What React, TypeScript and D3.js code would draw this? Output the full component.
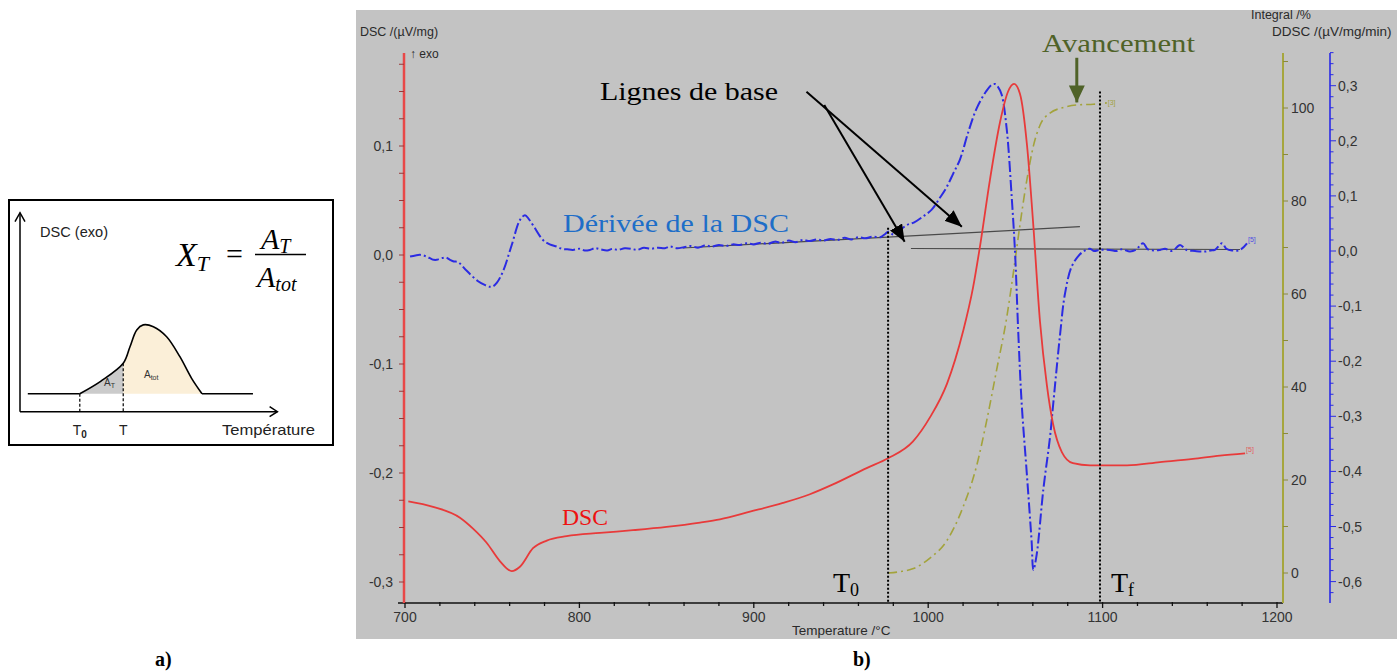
import React from "react";
import * as d3 from "d3";

// ---------------- data ----------------
const tempTicks = [700, 800, 900, 1000, 1100, 1200];
const dscTicks = [0.1, 0.0, -0.1, -0.2, -0.3];
const integralTicks = [0, 20, 40, 60, 80, 100];
const ddscTicks = [0.3, 0.2, 0.1, 0.0, -0.1, -0.2, -0.3, -0.4, -0.5, -0.6];

// DSC (µV/mg) vs temperature (°C)
const dscT = [701.9, 716.1, 731.5, 739, 746.8, 754.5, 761.2, 765.9, 773.4, 781.3, 792.7, 811.8, 830.7, 850, 869.2, 880.6, 897.8, 916.7, 932.2, 945.4, 964.7, 977, 991.3, 1001, 1010.8, 1020, 1025.7, 1029.7, 1035.4, 1041.2, 1045.8, 1049.2, 1052.6, 1056.7, 1060.1, 1064.1, 1068.1, 1071.6, 1076.7, 1083, 1092.8, 1114, 1132.9, 1151.8, 1167.3, 1181.7];
const dscV = [-0.226, -0.231, -0.241, -0.251, -0.264, -0.281, -0.29, -0.286, -0.269, -0.262, -0.258, -0.255, -0.2525, -0.2495, -0.2455, -0.2425, -0.2355, -0.2275, -0.2195, -0.2105, -0.1955, -0.1865, -0.171, -0.149, -0.118, -0.07, -0.03, 0.008, 0.069, 0.122, 0.15, 0.157, 0.148, 0.1, 0.031, -0.061, -0.12, -0.155, -0.181, -0.191, -0.193, -0.193, -0.19, -0.187, -0.184, -0.182];

// DDSC (µV/mg/min)
const ddscT = [702.9, 706, 708.6, 711.5, 714.3, 716.5, 718.2, 721, 723.5, 725.8, 728, 730.4, 735.4, 741.9, 746, 748.7, 750.5, 752.6, 756.2, 761.2, 765.9, 768.8, 771, 773.4, 779.1, 783, 787, 790, 793, 796.3, 800, 803, 806, 809, 812, 816, 819, 822, 826, 830, 833, 837, 841, 845, 849, 852, 856, 860, 864, 868, 872, 876, 880, 884, 888, 892, 896, 900, 904, 908, 912, 916, 920, 924, 928, 932, 936, 940, 944, 948, 952, 956, 960, 964, 968, 972.4, 975, 977.1, 980, 983, 987.7, 992, 997.2, 1002, 1006.8, 1010.6, 1014.4, 1018.2, 1023, 1027.8, 1033.5, 1036.5, 1038.3, 1040, 1042.1, 1045, 1047.9, 1049.8, 1051.7, 1053.6, 1056.5, 1059.3, 1060.3, 1062.2, 1066, 1069.8, 1071.7, 1075.6, 1078.4, 1082.3, 1087, 1090.5, 1092.8, 1095, 1098.5, 1104.2, 1108, 1111, 1115.7, 1119, 1123.2, 1126, 1130, 1133, 1135.8, 1140, 1144.4, 1148, 1153, 1158.7, 1162, 1164.4, 1168.5, 1171, 1174.2, 1178.8, 1182.8];
const ddscV = [-0.01, -0.008, -0.007, -0.009, -0.013, -0.016, -0.016, -0.013, -0.012, -0.016, -0.019, -0.02, -0.036, -0.055, -0.062, -0.065, -0.064, -0.058, -0.037, 0.011, 0.056, 0.065, 0.058, 0.047, 0.02, 0.012, 0.008, 0.004, 0.003, 0.002, 0.004, 0.001, 0.002, 0.005, 0.003, 0.001, 0.004, 0.002, 0.005, 0.004, 0.002, 0.006, 0.004, 0.006, 0.005, 0.008, 0.005, 0.007, 0.009, 0.006, 0.01, 0.008, 0.011, 0.009, 0.012, 0.011, 0.014, 0.012, 0.015, 0.013, 0.017, 0.015, 0.019, 0.016, 0.02, 0.018, 0.021, 0.019, 0.022, 0.02, 0.024, 0.021, 0.025, 0.023, 0.026, 0.025, 0.03, 0.035, 0.03, 0.036, 0.047, 0.052, 0.063, 0.075, 0.097, 0.116, 0.141, 0.166, 0.216, 0.259, 0.291, 0.302, 0.303, 0.298, 0.284, 0.222, 0.097, -0.003, -0.152, -0.277, -0.402, -0.527, -0.579, -0.551, -0.433, -0.339, -0.277, -0.152, -0.078, -0.028, -0.006, 0.002, 0.004, 0.0, 0.002, 0.002, 0.0, 0.003, -0.001, 0.002, 0.014, 0.003, 0.001, 0.002, 0.004, 0.0, 0.011, 0.002, 0.0, -0.001, 0.001, 0.002, 0.014, 0.004, 0.001, 0.002, 0.014];

// Integral (%)
const integralT = [977, 984, 991.5, 1001, 1010.6, 1020.1, 1027.8, 1033.5, 1039.3, 1045, 1048.8, 1052.6, 1056.5, 1060.3, 1064.1, 1069.8, 1077.5, 1087, 1094.7, 1102.4];
const integralV = [0, 0.3, 0.95, 3.2, 6.9, 14.3, 23.1, 32.7, 43.8, 54.9, 64.5, 74.8, 84.4, 91.8, 96.3, 98.9, 100.1, 100.7, 100.8, 101.1];

// baselines (DDSC units)
const baseline1T = [859.4, 1087];
const baseline1V = [0.0054, 0.0441];
const baseline2T = [990.1, 1178.8];
const baseline2V = [0.0045, 0.0027];

const T0 = 977;
const Tf = 1098.5;
const T0TopDsc = 0.025;
const TfTopDsc = 0.15;

// annotation arrows (temperature, DSC value)
const arrowA = [[930.2, 0.1498], [1019.3, 0.026]];
const arrowB = [[940.4, 0.1376], [986.5, 0.0122]];
const avArrowT = 1085.2;
const avArrowInt = [110.8, 101.2];

// schematic panel a) (arbitrary units)
const schemStart = 3;
const schemEnd = 89.6;
const schemX = [23, 31, 39.7, 42.3, 44.9, 47.4, 51.3, 56.4, 61.5, 66, 70];
const schemY = [9, 15.2, 24.2, 32.5, 40.9, 43.4, 42.5, 37.5, 27.5, 16.7, 9];
const schemT0 = 23;
const schemT = 39.7;
const schemBase = 9;

// ---------------- helpers ----------------
const fmt1 = (v: number) => (v < -1e-9 ? "-" : "") + Math.abs(v).toFixed(1).replace(".", ",");

export default function App() {
  // panel b scales
  const x = d3.scaleLinear().domain([700, 1200]).range([405, 1277]);
  const yDsc = d3.scaleLinear().domain([0, 0.1]).range([255, 146]);
  const yInt = d3.scaleLinear().domain([0, 100]).range([573, 108]);
  const yDd = d3.scaleLinear().domain([0, 0.1]).range([251, 195.9]);

  const axTop = 53;
  const axBot = 603;
  const redX = 404;
  const oliveX = 1283;
  const blueX = 1330;

  const within = (py: number) => py >= axTop - 0.5 && py <= axBot + 0.5;

  const cr = d3.curveCatmullRom.alpha(0.5);
  const mono = d3.curveMonotoneX;
  const dscPath = d3.line<number>().x((_, i) => x(dscT[i])).y((d) => yDsc(d)).curve(mono)(dscV) || "";
  const ddPath = d3.line<number>().x((_, i) => x(ddscT[i])).y((d) => yDd(d)).curve(cr)(ddscV) || "";
  const intPath = d3.line<number>().x((_, i) => x(integralT[i])).y((d) => yInt(d)).curve(mono)(integralV) || "";
  const bl1 = d3.line<number>().x((_, i) => x(baseline1T[i])).y((d) => yDd(d))(baseline1V) || "";
  const bl2 = d3.line<number>().x((_, i) => x(baseline2T[i])).y((d) => yDd(d))(baseline2V) || "";

  const redMinor = d3.range(-14, 9).map((k) => k * 0.025).filter((v) => within(yDsc(v)));
  const oliveMinor = d3.range(-1, 12).map((k) => k * 10).filter((v) => within(yInt(v)));
  const blueMinor = d3.range(-32, 19).map((k) => k * 0.02).filter((v) => within(yDd(v)));
  const xMinor = d3.range(700, 1201, 20);

  // panel a scales
  const sx = d3.scaleLinear().domain([0, 100]).range([20, 280]);
  const sy = d3.scaleLinear().domain([0, 100]).range([411.7, 211.7]);
  const bumpPath = d3.line<number>().x((_, i) => sx(schemX[i])).y((d) => sy(d)).curve(cr)(schemY) || "";
  const pts = schemX.map((v, i) => [v, schemY[i]]);
  const area = d3
    .area<number[]>()
    .x((d) => sx(d[0]))
    .y0(sy(schemBase))
    .y1((d) => sy(d[1]))
    .curve(cr);
  const areaPath = area(pts) || "";

  const sans = "'Liberation Sans', Arial, sans-serif";
  const serif = "'Liberation Serif', 'Times New Roman', serif";
  const tickCol = "#333333";

  return (
    <div style={{ position: "absolute", left: 0, top: 0 }}>
      <svg width={1397} height={672} style={{ display: "block", background: "#ffffff" }}>
        <defs>
          <marker id="blackHead" markerUnits="userSpaceOnUse" markerWidth={18} markerHeight={14} refX={17} refY={7} orient="auto">
            <path d="M0,0 L17,7 L0,14 Z" fill="#000" />
          </marker>
          <marker id="oliveHead" markerUnits="userSpaceOnUse" markerWidth={18} markerHeight={16} refX={17} refY={8} orient="auto">
            <path d="M0,0 L17,8 L0,16 Z" fill="#4f6228" />
          </marker>
          <clipPath id="panelClip">
            <rect x={356} y={10} width={1041} height={629} />
          </clipPath>
          <clipPath id="clipAT">
            <rect x={sx(schemT0)} y={200} width={sx(schemT) - sx(schemT0)} height={220} />
          </clipPath>
          <clipPath id="clipAtot">
            <rect x={sx(schemT)} y={200} width={sx(70) - sx(schemT)} height={220} />
          </clipPath>
        </defs>

        {/* ---------- panel a ---------- */}
        <rect x={9} y={200} width={324} height={245} fill="#fff" stroke="#000" strokeWidth={2} />
        <path d={areaPath} fill="#cbcbcb" clipPath="url(#clipAT)" />
        <path d={areaPath} fill="#fbefd8" clipPath="url(#clipAtot)" />
        <line x1={sx(schemStart)} x2={sx(schemT0)} y1={sy(schemBase)} y2={sy(schemBase)} stroke="#000" strokeWidth={1.6} />
        <path d={bumpPath} fill="none" stroke="#000" strokeWidth={1.6} />
        <line x1={sx(70)} x2={sx(schemEnd)} y1={sy(schemBase)} y2={sy(schemBase)} stroke="#000" strokeWidth={1.6} />
        <line x1={sx(schemT0)} x2={sx(schemT0)} y1={sy(schemBase)} y2={sy(0)} stroke="#000" strokeWidth={1.2} strokeDasharray="3 2" />
        <line x1={sx(schemT)} x2={sx(schemT)} y1={sy(schemY[2])} y2={sy(0)} stroke="#000" strokeWidth={1.2} strokeDasharray="3 2" />
        {/* axes */}
        <line x1={sx(0)} x2={sx(0)} y1={sy(0)} y2={sy(99.5)} stroke="#000" strokeWidth={1.5} />
        <polyline points={`${sx(0) - 5},${sy(95)} ${sx(0)},${sy(99.5)} ${sx(0) + 5},${sy(95)}`} fill="none" stroke="#000" strokeWidth={1.5} />
        <line x1={sx(0)} x2={sx(99)} y1={sy(0)} y2={sy(0)} stroke="#000" strokeWidth={1.5} />
        <polyline points={`${sx(96)},${sy(0) - 5} ${sx(99)},${sy(0)} ${sx(96)},${sy(0) + 5}`} fill="none" stroke="#000" strokeWidth={1.5} />
        <text x={40} y={237} fontFamily={sans} fontSize={15} fill="#222" textLength={68} lengthAdjust="spacingAndGlyphs">DSC (exo)</text>
        <text x={sx(schemT0)} y={435} fontFamily={sans} fontSize={14} textAnchor="middle" fill="#222">
          T<tspan fontSize={10} dy={3} fontWeight="bold">0</tspan>
        </text>
        <text x={sx(schemT)} y={435} fontFamily={sans} fontSize={14} textAnchor="middle" fill="#222">T</text>
        <text x={222} y={435} fontFamily={sans} fontSize={15} fill="#222" textLength={93} lengthAdjust="spacingAndGlyphs">Température</text>
        <text x={104} y={386} fontFamily={sans} fontSize={10} fill="#333">
          A<tspan fontSize={7} dy={2}>T</tspan>
        </text>
        <text x={144} y={378} fontFamily={sans} fontSize={10} fill="#333">
          A<tspan fontSize={7} dy={2}>tot</tspan>
        </text>
        {/* formula */}
        <text x={176} y={266} fontFamily={serif} fontSize={34} fontStyle="italic" fill="#000">
          X<tspan fontSize={22} dy={5}>T</tspan>
        </text>
        <text x={226} y={264} fontFamily={serif} fontSize={30} fill="#000">=</text>
        <text x={261} y={249} fontFamily={serif} fontSize={30} fontStyle="italic" fill="#000">
          A<tspan fontSize={20} dy={4}>T</tspan>
        </text>
        <line x1={255} x2={306} y1={254.5} y2={254.5} stroke="#000" strokeWidth={1.4} />
        <text x={257} y={287} fontFamily={serif} fontSize={30} fontStyle="italic" fill="#000">
          A<tspan fontSize={20} dy={4}>tot</tspan>
        </text>
        <text x={155} y={666} fontFamily={serif} fontSize={20} fontWeight="bold" fill="#000">a)</text>

        {/* ---------- panel b ---------- */}
        <rect x={356} y={10} width={1041} height={629} fill="#c3c3c3" />
        <g clipPath="url(#panelClip)">
          {/* axis titles */}
          <text x={360} y={36} fontFamily={sans} fontSize={12.5} fill="#2a2a2a">DSC /(µV/mg)</text>
          <text x={410} y={58} fontFamily={sans} fontSize={12} fill="#2a2a2a">↑ exo</text>
          <text x={1251} y={19} fontFamily={sans} fontSize={12.5} fill="#2a2a2a">Integral /%</text>
          <text x={1272} y={36} fontFamily={sans} fontSize={13.5} fill="#2a2a2a">DDSC /(µV/mg/min)</text>
          <text x={792} y={635} fontFamily={sans} fontSize={13.5} fill="#2a2a2a">Temperature /°C</text>

          {/* x axis */}
          <line x1={398} x2={oliveX} y1={axBot} y2={axBot} stroke="#111" strokeWidth={1.5} />
          {xMinor.map((t) => (
            <line key={"xm" + t} x1={x(t)} x2={x(t)} y1={axBot - 1} y2={axBot + (t % 100 === 0 ? 5 : 3)} stroke="#111" strokeWidth={1.3} />
          ))}
          {tempTicks.map((t) => (
            <text key={"xl" + t} x={x(t)} y={622} textAnchor="middle" fontFamily={sans} fontSize={14} fill={tickCol}>{t}</text>
          ))}

          {/* red DSC axis */}
          <line x1={redX} x2={redX} y1={axTop} y2={axBot} stroke="#e84848" strokeWidth={2.5} />
          {redMinor.map((v, i) => (
            <line key={"rm" + i} x1={redX - 5} x2={redX} y1={yDsc(v)} y2={yDsc(v)} stroke="#9a3a3a" strokeWidth={1} />
          ))}
          {dscTicks.map((v) => (
            <text key={"rl" + v} x={393} y={yDsc(v) + 5} textAnchor="end" fontFamily={sans} fontSize={14} fill={tickCol}>{fmt1(v)}</text>
          ))}

          {/* olive integral axis */}
          <line x1={oliveX} x2={oliveX} y1={axTop} y2={axBot} stroke="#a6a63e" strokeWidth={2} />
          {oliveMinor.map((v, i) => (
            <line key={"om" + i} x1={oliveX} x2={oliveX + 5} y1={yInt(v)} y2={yInt(v)} stroke="#8a8a3a" strokeWidth={1} />
          ))}
          {integralTicks.map((v) => (
            <text key={"ol" + v} x={1291} y={yInt(v) + 5} fontFamily={sans} fontSize={14} fill={tickCol}>{v}</text>
          ))}

          {/* blue DDSC axis */}
          <line x1={blueX} x2={blueX} y1={axTop} y2={axBot} stroke="#2a2ae6" strokeWidth={1.6} />
          {blueMinor.map((v, i) => (
            <line key={"bm" + i} x1={blueX} x2={blueX + (Math.abs(Math.round(v * 50)) % 5 === 0 ? 6 : 3.5)} y1={yDd(v)} y2={yDd(v)} stroke="#2a2ae6" strokeWidth={1} />
          ))}
          {ddscTicks.map((v) => (
            <text key={"bl" + v} x={1338} y={yDd(v) + 5} fontFamily={sans} fontSize={14} fill={tickCol}>{fmt1(v)}</text>
          ))}

          {/* baselines */}
          <path d={bl1} fill="none" stroke="#4a4a4a" strokeWidth={1.2} />
          <path d={bl2} fill="none" stroke="#4a4a4a" strokeWidth={1.2} />

          {/* curves */}
          <path d={intPath} fill="none" stroke="#a3a33c" strokeWidth={1.6} strokeDasharray="9 4 2 4" />
          <path d={ddPath} fill="none" stroke="#2b2be3" strokeWidth={2} strokeDasharray="11 3 2 3" />
          <path d={dscPath} fill="none" stroke="#e83a3a" strokeWidth={1.8} />

          {/* end markers */}
          <text x={x(dscT[dscT.length - 1]) + 1} y={yDsc(dscV[dscV.length - 1]) - 1} fontFamily={sans} fontSize={7} fill="#e06060">[5]</text>
          <text x={x(ddscT[ddscT.length - 1]) + 1} y={yDd(ddscV[ddscV.length - 1]) - 1} fontFamily={sans} fontSize={7} fill="#5050e0">[5]</text>
          <text x={x(integralT[integralT.length - 1]) + 1} y={yInt(integralV[integralV.length - 1]) + 2} fontFamily={sans} fontSize={7} fill="#a0a040">[3]</text>

          {/* T0 / Tf */}
          <line x1={x(T0)} x2={x(T0)} y1={yDsc(T0TopDsc)} y2={axBot} stroke="#000" strokeWidth={2} strokeDasharray="2 2" />
          <line x1={x(Tf)} x2={x(Tf)} y1={yDsc(TfTopDsc)} y2={axBot} stroke="#000" strokeWidth={2} strokeDasharray="2 2" />
          <text x={833} y={592} fontFamily={serif} fontSize={28} fill="#000">
            T<tspan fontSize={18} dy={4}>0</tspan>
          </text>
          <text x={1111} y={592} fontFamily={serif} fontSize={28} fill="#000">
            T<tspan fontSize={18} dy={4}>f</tspan>
          </text>

          {/* annotations */}
          <text x={600} y={100} fontFamily={serif} fontSize={26} fill="#000" textLength={178} lengthAdjust="spacingAndGlyphs">Lignes de base</text>
          <line x1={x(arrowA[0][0])} y1={yDsc(arrowA[0][1])} x2={x(arrowA[1][0])} y2={yDsc(arrowA[1][1])} stroke="#000" strokeWidth={2} markerEnd="url(#blackHead)" />
          <line x1={x(arrowB[0][0])} y1={yDsc(arrowB[0][1])} x2={x(arrowB[1][0])} y2={yDsc(arrowB[1][1])} stroke="#000" strokeWidth={2} markerEnd="url(#blackHead)" />
          <text x={1042} y={52} fontFamily={serif} fontSize={26} fill="#4f6228" textLength={153} lengthAdjust="spacingAndGlyphs">Avancement</text>
          <line x1={x(avArrowT)} x2={x(avArrowT)} y1={yInt(avArrowInt[0])} y2={yInt(avArrowInt[1])} stroke="#4f6228" strokeWidth={3} markerEnd="url(#oliveHead)" />
          <text x={563} y={232} fontFamily={serif} fontSize={26} fill="#1e6ec8" textLength={226} lengthAdjust="spacingAndGlyphs">Dérivée de la DSC</text>
          <text x={562} y={525} fontFamily={serif} fontSize={23} fill="#ee1111" textLength={46} lengthAdjust="spacingAndGlyphs">DSC</text>
        </g>
        <text x={853} y={666} fontFamily={serif} fontSize={20} fontWeight="bold" fill="#000">b)</text>
      </svg>
    </div>
  );
}
